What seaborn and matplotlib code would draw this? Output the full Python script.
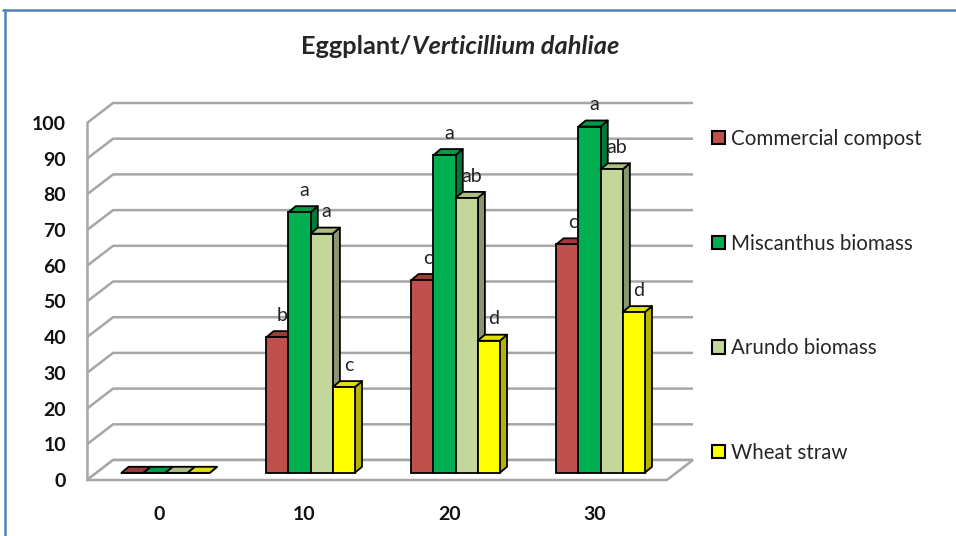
import numpy as np
import pandas as pd
import matplotlib
matplotlib.use("Agg")
import matplotlib.pyplot as plt
import seaborn as sns
from matplotlib.patches import Polygon, Patch
from matplotlib.lines import Line2D

# ---------------- data ----------------
doses = ["0", "10", "20", "30"]
series = ["Commercial compost", "Miscanthus biomass", "Arundo biomass", "Wheat straw"]
commercial = [0, 38, 54, 64]
miscanthus = [0, 73, 89, 97]
arundo = [0, 67, 77, 85]
wheat = [0, 24, 37, 45]
letters_commercial = ["", "b", "c", "c"]
letters_miscanthus = ["", "a", "a", "a"]
letters_arundo = ["", "a", "ab", "ab"]
letters_wheat = ["", "c", "d", "d"]
yticks = list(range(0, 101, 10))
title_plain = "Eggplant/"
title_italic = "Verticillium dahliae"

values = [commercial, miscanthus, arundo, wheat]
letters = [letters_commercial, letters_miscanthus, letters_arundo, letters_wheat]

front_colors = ["#C0504D", "#00B050", "#C4D79B", "#FFFF00"]
top_colors = ["#9E3B38", "#009A45", "#AEBF86", "#E0E000"]
side_colors = ["#7F2D2B", "#007A37", "#8A9670", "#B5B500"]

df = pd.DataFrame({
    "dose": np.repeat([doses], len(series), axis=0).ravel(),
    "series": np.repeat(series, len(doses)),
    "value": np.concatenate(values),
})

sns.set_style("white")
plt.rcParams["font.family"] = ["Lato", "DejaVu Sans"]

W, H = 956, 536
fig = plt.figure(figsize=(W / 100, H / 100), dpi=100)
ax = fig.add_axes([87 / W, (H - 480) / H, (693 - 87) / W, (480 - 103) / H])

# 3D frame offsets (depth of back wall, bar position/depth)
DX, DY = 0.18, 5.6
SX, SY = 0.042, 2.0
BDX, BDY = 0.05, 1.7
gray = "#A6A6A6"

sns.barplot(data=df, x="dose", y="value", hue="series", order=doses,
            hue_order=series, palette=front_colors, saturation=1, width=0.61,
            edgecolor="black", linewidth=1.3, errorbar=None, legend=False, ax=ax)

ax.set_xlim(-0.5, 3.5 + DX)
ax.set_ylim(0, 100 + DY)
for s in ax.spines.values():
    s.set_visible(False)
ax.set_xlabel("")
ax.set_ylabel("")
ax.grid(False)
ax.set_yticks(yticks)
ax.set_yticklabels([str(v) for v in yticks])
ax.tick_params(axis="y", length=0, pad=15, labelsize=14)
ax.tick_params(axis="x", length=0, pad=19, labelsize=14)
for lbl in ax.get_yticklabels() + ax.get_xticklabels():
    lbl.set_fontweight("bold")
    lbl.set_color("#111111")

# back wall gridlines + left diagonals
for v in yticks:
    ax.plot([-0.5, -0.5 + DX, 3.5 + DX], [v, v + DY, v + DY], color=gray,
            lw=1.8, zorder=0.5, clip_on=False, solid_capstyle="butt")
ax.plot([-0.5, -0.5], [0, 100], color=gray, lw=1.8, zorder=0.6, clip_on=False)
floor = Polygon([(-0.5, 0), (3.5, 0), (3.5 + DX, DY), (-0.5 + DX, DY)],
                closed=True, facecolor="white", edgecolor=gray, lw=1.8,
                zorder=0.7, clip_on=False)
ax.add_patch(floor)

# bars: shift into depth and add top/side faces
for i, cont in enumerate(ax.containers):
    for j, p in enumerate(cont.patches):
        x0 = p.get_x() + SX
        w = p.get_width()
        h = p.get_height()
        p.set_x(x0)
        p.set_y(SY)
        z = 3 + i * 0.1
        p.set_zorder(z + 0.03)
        side = Polygon([(x0 + w, SY), (x0 + w + BDX, SY + BDY),
                        (x0 + w + BDX, SY + h + BDY), (x0 + w, SY + h)],
                       closed=True, facecolor=side_colors[i], edgecolor="black",
                       lw=1.3, zorder=z + 0.01, joinstyle="round")
        top = Polygon([(x0, SY + h), (x0 + w, SY + h),
                       (x0 + w + BDX, SY + h + BDY), (x0 + BDX, SY + h + BDY)],
                      closed=True, facecolor=top_colors[i], edgecolor="black",
                      lw=1.3, zorder=z + 0.02, joinstyle="round")
        ax.add_patch(side)
        ax.add_patch(top)
        lab = letters[i][j]
        if lab:
            ax.text(x0 + w / 2 + BDX * 0.7, SY + h + 4.6, lab, ha="center",
                    va="baseline", fontsize=14, color="#222222", zorder=10)

# legend
handles = [Patch(facecolor=c, edgecolor="black", lw=1.5) for c in front_colors]
fig.legend(handles, series, loc="upper left", bbox_to_anchor=(712 / W, 1 - 129 / H),
           frameon=False, fontsize=14.8, handlelength=0.62, handleheight=0.62,
           handletextpad=0.3, labelspacing=4.12, borderpad=0, borderaxespad=0)

# title (plain + italic part)
ty = 1 - 54 / H
t1 = fig.text(0, ty, title_plain, fontsize=18.3, fontweight="bold", ha="left", va="baseline")
t2 = fig.text(0, ty, title_italic, fontsize=18.3, fontweight="bold", style="italic",
              ha="left", va="baseline")
fig.canvas.draw()
r = fig.canvas.get_renderer()
w1 = t1.get_window_extent(r).width
w2 = t2.get_window_extent(r).width
start = 460 - (w1 + w2) / 2
t1.set_x(start / W)
t2.set_x((start + w1) / W)

# chart border (blue)
fig.add_artist(Line2D([3 / W, 1], [1 - 10 / H, 1 - 10 / H], color="#4F81BD", lw=1.8))
fig.add_artist(Line2D([5 / W, 5 / W], [0, 1 - 10 / H], color="#4F81BD", lw=1.8))

fig.savefig("out.png", dpi=100)
